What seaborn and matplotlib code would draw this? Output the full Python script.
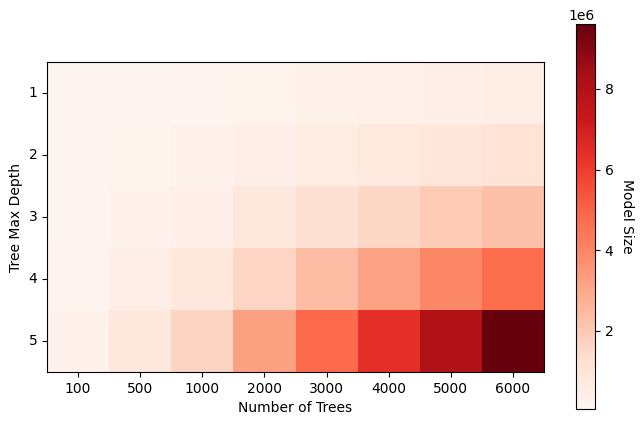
import matplotlib
matplotlib.use("Agg")
import matplotlib.pyplot as plt
import seaborn as sns
import pandas as pd
import numpy as np

n_trees = [100, 500, 1000, 2000, 3000, 4000, 5000, 6000]
depths = [1, 2, 3, 4, 5]

size_d1 = [0.058e6, 0.088e6, 0.126e6, 0.202e6, 0.278e6, 0.354e6, 0.430e6, 0.505e6]
size_d2 = [0.068e6, 0.139e6, 0.227e6, 0.404e6, 0.581e6, 0.758e6, 0.936e6, 1.113e6]
size_d3 = [0.088e6, 0.240e6, 0.430e6, 0.809e6, 1.189e6, 1.568e6, 1.948e6, 2.327e6]
size_d4 = [0.128e6, 0.442e6, 0.834e6, 1.619e6, 2.403e6, 3.187e6, 3.972e6, 4.756e6]
size_d5 = [0.209e6, 0.847e6, 1.644e6, 3.238e6, 4.832e6, 6.426e6, 8.020e6, 9.613e6]

df = pd.DataFrame([size_d1, size_d2, size_d3, size_d4, size_d5],
                  index=depths, columns=n_trees)

fig = plt.figure(figsize=(6.43, 4.25), dpi=100)
ax = fig.add_axes([47/643, 53/425, 497/643, 310/425])
cax = fig.add_axes([576/643, 16/425, 19/643, 385/425])

sns.heatmap(df, cmap="Reds", ax=ax, cbar_ax=cax, linewidths=0)

for s in ax.spines.values():
    s.set_visible(True)
    s.set_linewidth(0.8)
ax.tick_params(axis="both", length=3.5, width=0.8, labelsize=10)
ax.set_yticklabels([str(d) for d in depths], rotation=0)
ax.set_xticklabels([str(t) for t in n_trees], rotation=0)
ax.set_xlabel("Number of Trees", fontsize=10)
ax.set_ylabel("Tree Max Depth", fontsize=10)

cb = ax.collections[0].colorbar
cb.outline.set_visible(True)
cb.outline.set_linewidth(0.8)
cb.set_ticks([2e6, 4e6, 6e6, 8e6])
cb.formatter = matplotlib.ticker.ScalarFormatter(useMathText=False)
cb.formatter.set_powerlimits((0, 0))
cb.update_ticks()
cax.tick_params(length=3.5, width=0.8, labelsize=10)
cb.set_label("Model Size", rotation=270, labelpad=15, fontsize=10)

fig.savefig("out.png", dpi=100)
